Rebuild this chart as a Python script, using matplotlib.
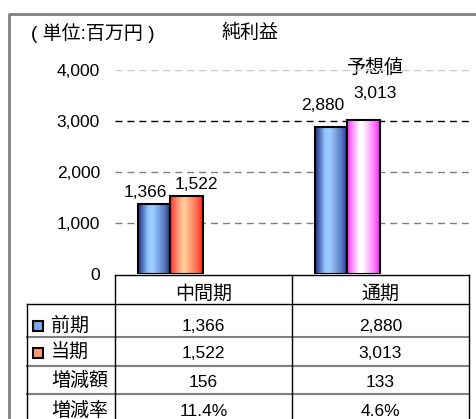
import numpy as np
import matplotlib
matplotlib.use('Agg')
import matplotlib.pyplot as plt
from matplotlib.colors import LinearSegmentedColormap
from matplotlib.patches import Rectangle

# ---- data ----
periods = ['中間期', '通期']
prev_values = [1366, 2880]
curr_values = [1522, 3013]
change_amount = [156, 133]
change_rate = ['11.4%', '4.6%']
series_names = ['前期', '当期']
extra_rows = ['増減額', '増減率']
yticks = [0, 1000, 2000, 3000, 4000]
title = '純利益'
unit = '( 単位:百万円 )'
forecast_note = '予想値'

plt.rcParams['font.family'] = ['Liberation Sans', 'Noto Sans CJK JP']

NUM_FS = 12.5
JP_FS = 13.7

W, H = 476, 419
fig = plt.figure(figsize=(W / 100, H / 100), dpi=100)
fig.patch.set_facecolor('white')

def fx(px):
    return px / W

def fy(py):
    return 1 - py / H

ax_left, ax_right, ax_top, ax_bot = 115, 469, 70, 274
ax = fig.add_axes([fx(ax_left), fy(ax_bot), (ax_right - ax_left) / W, (ax_bot - ax_top) / H])
ax.set_facecolor('none')
ax.set_zorder(2)

# overlay for table/frame in pixel coordinates
tab = fig.add_axes([0, 0, 1, 1])
tab.set_xlim(0, W)
tab.set_ylim(H, 0)
tab.axis('off')
tab.set_zorder(1)

pos = np.arange(len(periods)) + 0.5
bw = 0.185
off_prev, off_curr = -0.28, -0.094

blue_grad = (['#1c2a78', '#8fc3ff', '#9ccfff', '#5575c0', '#1a2670'], [0, 0.3, 0.45, 0.82, 1])
red_grad = (['#ff3030', '#ffc090', '#ffcc99', '#ff7055', '#ff2020'], [0, 0.35, 0.45, 0.8, 1])
pink_grad = (['#ff30ff', '#ffffff', '#ffffff', '#ff80ff', '#ff20ff'], [0, 0.38, 0.48, 0.82, 1])
curr_grads = [red_grad, pink_grad]

def add_gradient(bar, grad):
    colors, stops = grad
    cmap = LinearSegmentedColormap.from_list('g', list(zip(stops, colors)))
    x0 = bar.get_x()
    w = bar.get_width()
    h = bar.get_height()
    img = ax.imshow(np.linspace(0, 1, 256).reshape(1, -1), cmap=cmap,
                    extent=(x0, x0 + w, 0, h), aspect='auto', zorder=2.5,
                    interpolation='bilinear')
    img.set_clip_path(bar)

bars_prev = ax.bar(pos + off_prev, prev_values, width=bw, facecolor='none',
                   edgecolor='black', linewidth=1.5, zorder=3)
bars_curr = ax.bar(pos + off_curr, curr_values, width=bw, facecolor='none',
                   edgecolor='black', linewidth=1.5, zorder=3)
for b in bars_prev:
    add_gradient(b, blue_grad)
for b, g in zip(bars_curr, curr_grads):
    add_gradient(b, g)

# gridlines
grid_colors = {1000: '#808080', 2000: '#808080', 3000: '#000000', 4000: '#c8c8c8'}
for v in yticks[1:]:
    ax.axhline(v, color=grid_colors[v], lw=1, linestyle=(0, (5, 3.6)), zorder=1)

ax.set_xlim(0, 2)
ax.set_ylim(0, 4000)
ax.set_xticks([])
ax.set_yticks(yticks)
ax.set_yticklabels([f'{v:,}' for v in yticks])
ax.tick_params(axis='y', length=0, pad=10.8, labelsize=NUM_FS)
for s in ax.spines.values():
    s.set_visible(False)

# data labels (pixel offsets)
label_offsets_prev = [(-8.5, 12), (-8.5, 22)]
label_offsets_curr = [(10, 12), (11, 27)]
for b, v, (dx, dy) in zip(bars_prev, prev_values, label_offsets_prev):
    ax.annotate(f'{v:,}', xy=(b.get_x() + b.get_width() / 2, v), xytext=(dx, dy),
                textcoords='offset pixels', ha='center', va='center', fontsize=NUM_FS,
                annotation_clip=False)
for b, v, (dx, dy) in zip(bars_curr, curr_values, label_offsets_curr):
    ax.annotate(f'{v:,}', xy=(b.get_x() + b.get_width() / 2, v), xytext=(dx, dy),
                textcoords='offset pixels', ha='center', va='center', fontsize=NUM_FS,
                annotation_clip=False)

# titles
tab.text(31, 33, unit, ha='left', va='center', fontsize=13.7)
tab.text(250, 33, title, ha='center', va='center', fontsize=JP_FS)
tab.text(375, 68, forecast_note, ha='center', va='center', fontsize=JP_FS)

# frame
tab.plot([9, 9, W], [H, 14, 14], color='#808080', lw=2, solid_capstyle='butt')

# table
col_x = [27, 115, 292, 469]
tab.plot([115, 469], [275, 275], color='black', lw=1)
tab.plot([27, 469], [304, 304], color='black', lw=1)
for yy in [337, 366, 394]:
    tab.plot([27, 469], [yy, yy], color='#808080', lw=1.5)
tab.plot([27, 27], [304, H], color='black', lw=1)
for xx in col_x[1:]:
    tab.plot([xx, xx], [275, H], color='black', lw=1)

col_c = [(col_x[1] + col_x[2]) / 2, (col_x[2] + col_x[3]) / 2]
for c, p in zip(col_c, periods):
    tab.text(c, 294, p, ha='center', va='center', fontsize=JP_FS)

row_y = [326, 353, 382, 411]
rows = [[f'{v:,}' for v in prev_values], [f'{v:,}' for v in curr_values],
        [f'{v:,}' for v in change_amount], change_rate]
row_labels = series_names + extra_rows
for yy, lab, vals in zip(row_y, row_labels, rows):
    tab.text(51, yy, lab, ha='left', va='center', fontsize=JP_FS)
    for c, v in zip(col_c, vals):
        tab.text(c, yy, v, ha='center', va='center', fontsize=NUM_FS)

marker_colors = ['#7fa7e6', '#ff9a70']
for yy, mc in zip(row_y[:2], marker_colors):
    tab.add_patch(Rectangle((33, yy - 5), 10, 10, facecolor=mc, edgecolor='black', lw=1.5))

fig.savefig('out.png', dpi=100)
